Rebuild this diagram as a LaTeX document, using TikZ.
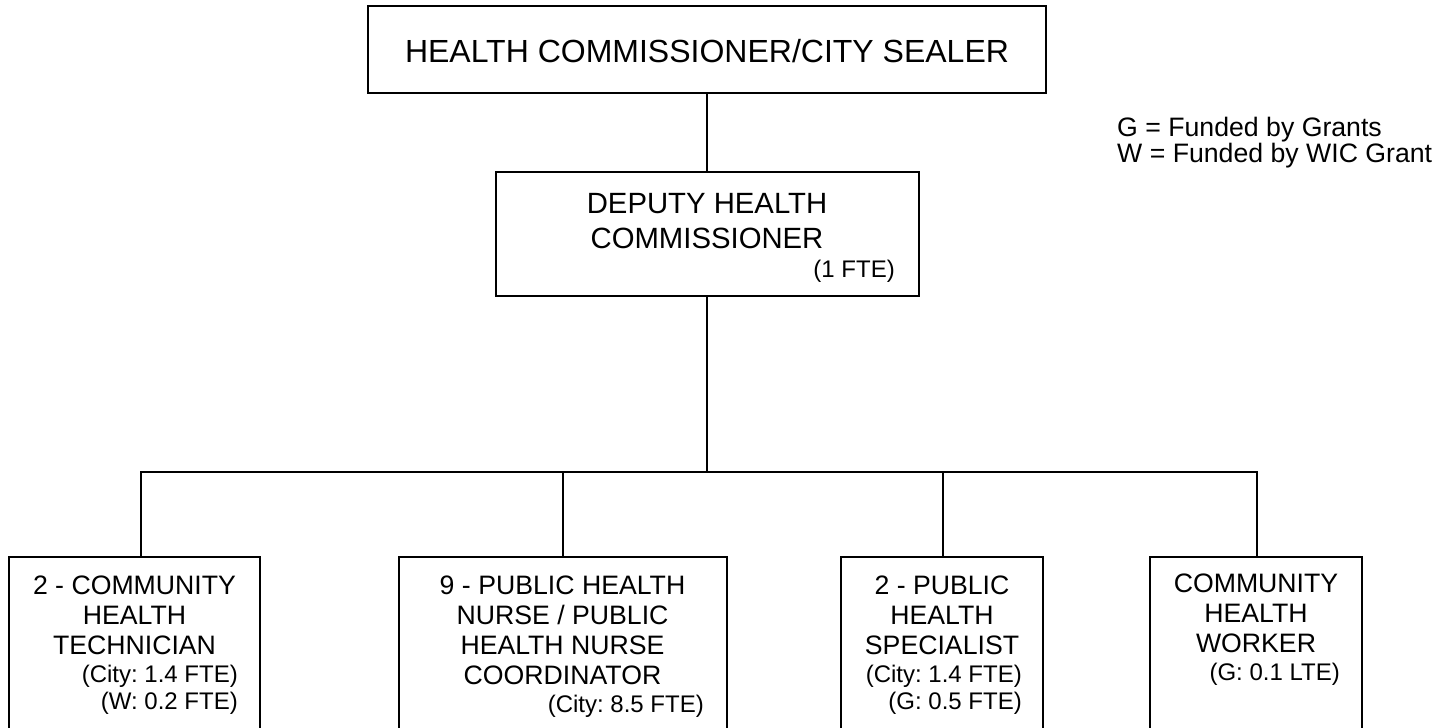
\documentclass[tikz,border=0pt]{standalone}
\usepackage{fontspec}
\setmainfont{Liberation Sans}
\frenchspacing
\begin{document}
\begin{tikzpicture}[x=1pt,y=-1pt,
  box/.style={draw, line width=2pt, inner sep=0pt, rectangle},
  conn/.style={line width=1.5pt},
  tc/.style={inner sep=0pt, anchor=base},
  tr/.style={inner sep=0pt, anchor=base east},
  tl/.style={inner sep=0pt, anchor=base west},
  ftop/.style={font=\fontsize{32}{37}\selectfont},
  fdep/.style={font=\fontsize{29.3}{34}\selectfont},
  fbox/.style={font=\fontsize{26.67}{30}\selectfont},
  ffte/.style={font=\fontsize{24}{27}\selectfont}]
\useasboundingbox (0,0) rectangle (1443,728);
\clip (0,0) rectangle (1443,728);

% boxes
\node[box, minimum width=678pt, minimum height=87pt] (top) at (707,49.5) {};
\node[box, minimum width=423pt, minimum height=124pt] (dep) at (707,234) {};
\node[box, minimum width=251pt, minimum height=213pt] (b1) at (134.5,663.5) {};
\node[box, minimum width=328pt, minimum height=213pt] (b2) at (563,663.5) {};
\node[box, minimum width=202pt, minimum height=213pt] (b3) at (942,663.5) {};
\node[box, minimum width=212pt, minimum height=213pt] (b4) at (1256,663.5) {};

% texts
\node[tc, ftop] (ttop) at (707,62) {HEALTH COMMISSIONER/CITY SEALER};

\node[tc, fdep] (td1) at (707,213) {DEPUTY HEALTH};
\node[tc, fdep] (td2) at (707,248) {COMMISSIONER};
\node[tr, ffte] (td3) at (895,277) {(1 FTE)};

\node[tc, fbox] (t11) at (134.5,594) {2 - COMMUNITY};
\node[tc, fbox] (t12) at (134.5,624) {HEALTH};
\node[tc, fbox] (t13) at (134.5,654) {TECHNICIAN};
\node[tr, ffte] (t14) at (238,682) {(City: 1.4 FTE)};
\node[tr, ffte] (t15) at (238,709) {(W: 0.2 FTE)};

\node[tc, fbox] (t21) at (562.5,594) {9 - PUBLIC HEALTH};
\node[tc, fbox] (t22) at (562.5,624) {NURSE / PUBLIC};
\node[tc, fbox] (t23) at (562.5,654) {HEALTH NURSE};
\node[tc, fbox] (t24) at (562.5,684) {COORDINATOR};
\node[tr, ffte] (t25) at (704,712) {(City: 8.5 FTE)};

\node[tc, fbox] (t31) at (942,594) {2 - PUBLIC};
\node[tc, fbox] (t32) at (942,624) {HEALTH};
\node[tc, fbox] (t33) at (942,654) {SPECIALIST};
\node[tr, ffte] (t34) at (1022,682) {(City: 1.4 FTE)};
\node[tr, ffte] (t35) at (1022,709) {(G: 0.5 FTE)};

\node[tc, fbox] (t41) at (1256,592) {COMMUNITY};
\node[tc, fbox] (t42) at (1256,622) {HEALTH};
\node[tc, fbox] (t43) at (1256,652) {WORKER};
\node[tr, ffte] (t44) at (1340,680) {(G: 0.1 LTE)};

\node[tl, fbox] (lg1) at (1117,136) {G = Funded by Grants};
\node[tl, fbox] (lg2) at (1117,162) {W = Funded by WIC Grant};

% connectors
\draw[conn] (top.south) -- (top.south |- dep.north);
\coordinate (busL) at (141,472);
\coordinate (busR) at (1257,472);
\coordinate (d2) at (563,472);
\coordinate (d3) at (943,472);
\draw[conn] (dep.south) -- (dep.south |- busL);
\draw[conn] (busL |- b1.north) -- (busL) -- (busR) -- (busR |- b4.north);
\draw[conn] (d2) -- (d2 |- b2.north);
\draw[conn] (d3) -- (d3 |- b3.north);
\end{tikzpicture}
\end{document}
